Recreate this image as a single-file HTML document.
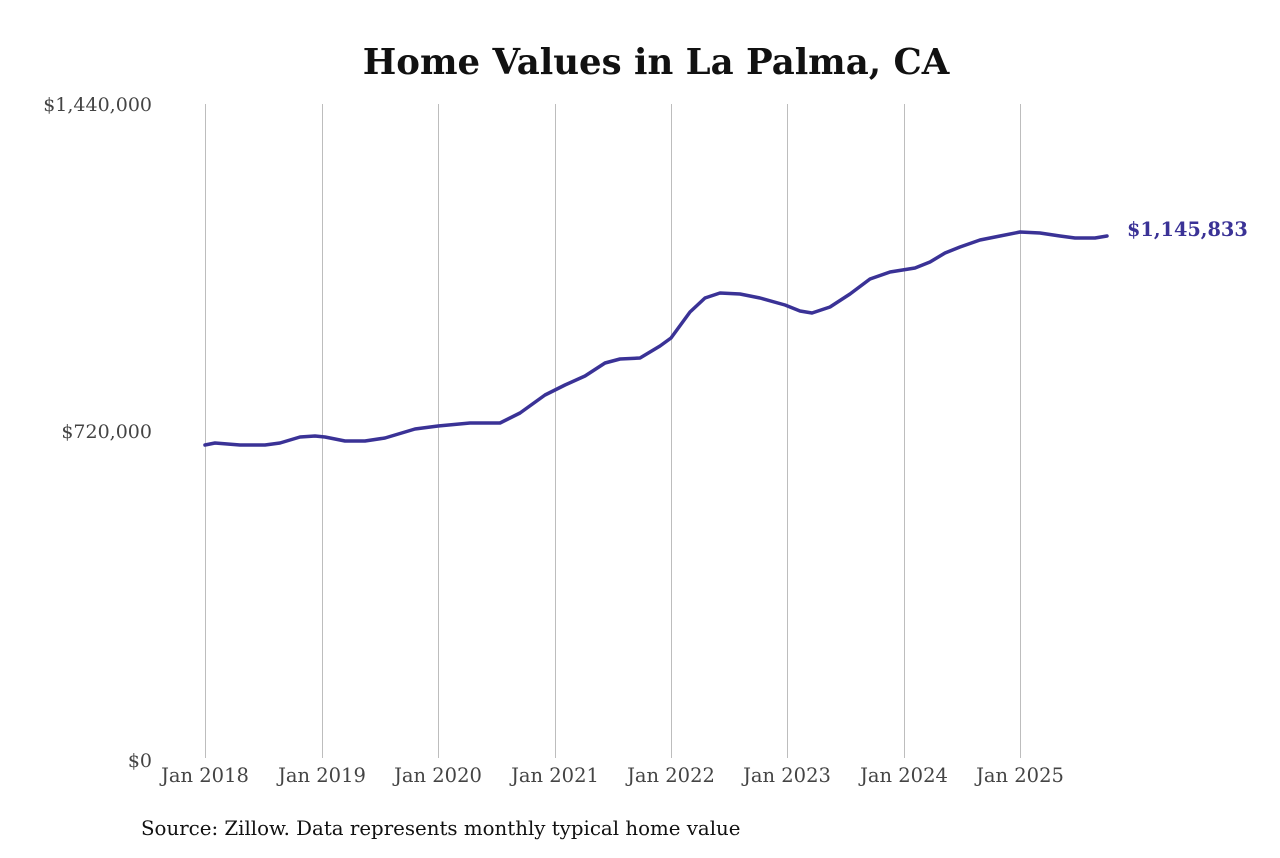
<!DOCTYPE html>
<html><head><meta charset="utf-8"><style>
body{margin:0;background:#fff;}
svg text{font-family:"DejaVu Serif","Liberation Serif",serif;}
</style></head><body>
<svg width="1280" height="853" viewBox="0 0 1280 853" xmlns="http://www.w3.org/2000/svg">
<rect width="1280" height="853" fill="#fff"/>
<text x="656" y="74" text-anchor="middle" font-size="35.5" font-weight="bold" fill="#111">Home Values in La Palma, CA</text>
<g stroke="#bdbdbd" stroke-width="1">
<line x1="205.5" y1="104" x2="205.5" y2="758"/>
<line x1="322.5" y1="104" x2="322.5" y2="758"/>
<line x1="438.5" y1="104" x2="438.5" y2="758"/>
<line x1="555.5" y1="104" x2="555.5" y2="758"/>
<line x1="671.5" y1="104" x2="671.5" y2="758"/>
<line x1="787.5" y1="104" x2="787.5" y2="758"/>
<line x1="904.5" y1="104" x2="904.5" y2="758"/>
<line x1="1020.5" y1="104" x2="1020.5" y2="758"/>
</g>
<g font-size="19" fill="#444" text-anchor="end">
<text x="152" y="111">$1,440,000</text>
<text x="152" y="438">$720,000</text>
<text x="152" y="767">$0</text>
</g>
<g font-size="19.5" fill="#444" text-anchor="middle">
<text x="205" y="782">Jan 2018</text>
<text x="322" y="782">Jan 2019</text>
<text x="438" y="782">Jan 2020</text>
<text x="555" y="782">Jan 2021</text>
<text x="671" y="782">Jan 2022</text>
<text x="787" y="782">Jan 2023</text>
<text x="904" y="782">Jan 2024</text>
<text x="1020" y="782">Jan 2025</text>
</g>
<polyline fill="none" stroke="#3a3296" stroke-width="3.5" stroke-linejoin="round" stroke-linecap="round"
points="205,445 215,443 240,445 265,445 280,443 300,437 315,436 325,437 345,441 365,441 385,438 415,429 438,426 470,423 500,423 520,413 545,395 565,385 585,376 605,363 620,359 640,358 660,346 671,338 690,312 705,298 720,293 740,294 760,298 785,305 800,311 812,313 830,307 850,294 870,279 890,272 915,268 930,262 945,253 960,247 980,240 1000,236 1020,232 1040,233 1060,236 1075,238 1095,238 1107,236"/>
<text x="1127" y="236" font-size="19.3" font-weight="bold" fill="#3a3296">$1,145,833</text>
<text x="141" y="835" font-size="19.8" fill="#111">Source: Zillow. Data represents monthly typical home value</text>
</svg>
</body></html>
